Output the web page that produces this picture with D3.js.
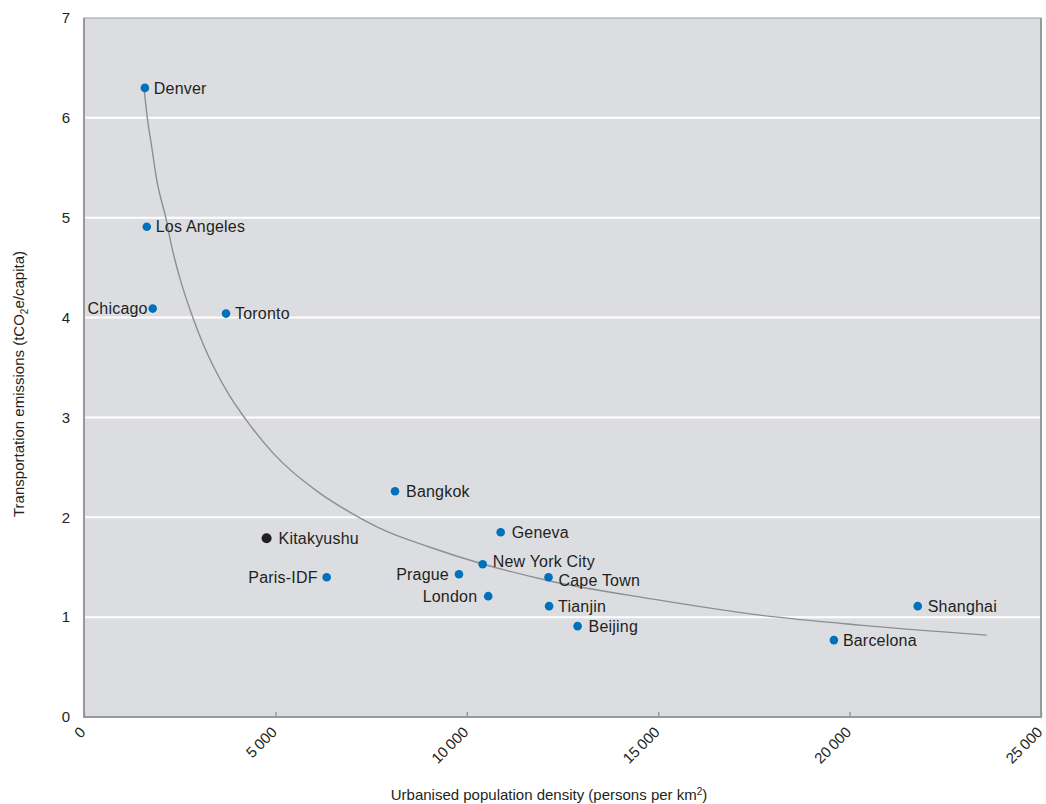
<!DOCTYPE html>
<html>
<head>
<meta charset="utf-8">
<script src="https://cdn.jsdelivr.net/npm/d3@7/dist/d3.min.js"></script>
<style>
  html, body { margin: 0; padding: 0; background: #ffffff; }
  svg { display: block; }
  text { font-family: "Liberation Sans", Arial, sans-serif; fill: #231f20; }
</style>
</head>
<body>
<svg id="chart" width="1046" height="804"></svg>
<script>
// Cities: urbanised population density vs. per-capita transport emissions
const cities   = ["Denver","Los Angeles","Chicago","Toronto","Bangkok","Kitakyushu","Paris-IDF","Geneva","New York City","Prague","London","Cape Town","Tianjin","Beijing","Barcelona","Shanghai"];
const density  = [1590, 1640, 1795, 3710, 8125, 4770, 6340, 10885, 10415, 9795, 10560, 12135, 12150, 12895, 19590, 21780];
const emission = [6.30, 4.91, 4.09, 4.04, 2.26, 1.79, 1.40, 1.85, 1.53, 1.43, 1.21, 1.40, 1.11, 0.91, 0.77, 1.11];
const highlighted = ["Kitakyushu"];

// Fitted trend curve (power law) sampled along its length
const trendX = [1567, 1654, 1769, 1899, 2142, 2291, 2508, 2814, 3117, 3422, 3814, 4206, 4945, 6165, 6862, 7733, 9039, 10345, 12087, 14872, 17659, 20271, 23580];
const trendY = [6.30, 6.00, 5.71, 5.38, 4.99, 4.71, 4.39, 4.03, 3.73, 3.48, 3.21, 2.99, 2.64, 2.24, 2.07, 1.89, 1.70, 1.54, 1.37, 1.18, 1.02, 0.92, 0.82];

const xTicks = [0, 5000, 10000, 15000, 20000, 25000];
const xTickLabels = ["0", "5\u2009000", "10\u2009000", "15\u2009000", "20\u2009000", "25\u2009000"];
const yTicks = [0, 1, 2, 3, 4, 5, 6, 7];

// label layout: horizontal offset from the dot (negative = text to the left) and vertical nudge, px
const labelDx = [9, 9, -5, 9, 11, 12, -9, 11, 10, -10, -11, 10, 9, 11, 9, 10];
const labelDy = [0, 0, 0, 0, 0, 0, 0, 0, -3, 0, 0, 3, 0, 0, 0, 0];

const svg = d3.select("#chart");
const plotLeft = 84, plotRight = 1041, plotTop = 18, plotBottom = 717;

const x = d3.scaleLinear().domain([0, 25000]).range([plotLeft, plotRight]);
const y = d3.scaleLinear().domain([0, 7]).range([plotBottom, plotTop]);

// plot background
svg.append("rect")
  .attr("x", plotLeft).attr("y", plotTop)
  .attr("width", plotRight - plotLeft).attr("height", plotBottom - plotTop)
  .attr("fill", "#dcdde0");

// horizontal gridlines
svg.append("g")
  .selectAll("line")
  .data(yTicks.filter(d => d > 0 && d < 7))
  .join("line")
  .attr("x1", plotLeft).attr("x2", plotRight)
  .attr("y1", d => y(d)).attr("y2", d => y(d))
  .attr("stroke", "#ffffff").attr("stroke-width", 2);

// frame
svg.append("rect")
  .attr("x", plotLeft).attr("y", plotTop)
  .attr("width", plotRight - plotLeft).attr("height", plotBottom - plotTop)
  .attr("fill", "none").attr("stroke", "#a0a1a4").attr("stroke-width", 1);
svg.append("path")
  .attr("d", `M${plotLeft},${plotTop}V${plotBottom}H${plotRight}V${plotTop}`)
  .attr("fill", "none").attr("stroke", "#98999c").attr("stroke-width", 2);

// x axis ticks (inward) and rotated labels
const xAxis = d3.axisBottom(x)
  .tickValues(xTicks)
  .tickSizeInner(-5).tickSizeOuter(0)
  .tickFormat((d, i) => xTickLabels[i]);
const gx = svg.append("g").attr("transform", `translate(0,${plotBottom})`).call(xAxis);
gx.select(".domain").remove();
gx.selectAll(".tick line").attr("stroke", "#98999c").attr("stroke-width", 1.5);
gx.selectAll(".tick text")
  .attr("font-size", 15)
  .attr("fill", "#231f20")
  .attr("text-anchor", "end")
  .attr("dy", null).attr("y", 0)
  .attr("transform", "translate(2,16) rotate(-45)");

// y axis labels
const yAxis = d3.axisLeft(y).tickValues(yTicks).tickSize(0).tickPadding(14).tickFormat(d3.format("d"));
const gy = svg.append("g").attr("transform", `translate(${plotLeft},0)`).call(yAxis);
gy.select(".domain").remove();
gy.selectAll(".tick text").attr("font-size", 15).attr("fill", "#231f20");

// trend curve
const line = d3.line()
  .x((d, i) => x(trendX[i]))
  .y((d, i) => y(trendY[i]))
  .curve(d3.curveMonotoneX);
svg.append("path")
  .attr("d", line(trendX))
  .attr("fill", "none")
  .attr("stroke", "#8d8e91")
  .attr("stroke-width", 1.4);

// points
const pts = cities.map((c, i) => ({ name: c, dx: density[i], ey: emission[i], ox: labelDx[i], oy: labelDy[i] }));
svg.append("g")
  .selectAll("circle")
  .data(pts)
  .join("circle")
  .attr("cx", d => x(d.dx))
  .attr("cy", d => y(d.ey))
  .attr("r", d => highlighted.includes(d.name) ? 5 : 4.3)
  .attr("fill", d => highlighted.includes(d.name) ? "#231f20" : "#0072bc");

// city labels
svg.append("g")
  .selectAll("text")
  .data(pts)
  .join("text")
  .attr("x", d => x(d.dx) + d.ox)
  .attr("y", d => y(d.ey) + d.oy)
  .attr("dy", "0.35em")
  .attr("text-anchor", d => d.ox >= 0 ? "start" : "end")
  .attr("font-size", 16)
  .attr("letter-spacing", "0.2px")
  .text(d => d.name);

// axis titles
const yTitle = svg.append("text")
  .attr("transform", "translate(24,384) rotate(-90)")
  .attr("text-anchor", "middle")
  .attr("font-size", 15);
yTitle.append("tspan").text("Transportation emissions (tCO");
yTitle.append("tspan").attr("font-size", 10).attr("dy", 4).text("2");
yTitle.append("tspan").attr("dy", -4).text("e/capita)");

const xTitle = svg.append("text")
  .attr("x", 549).attr("y", 800)
  .attr("text-anchor", "middle")
  .attr("font-size", 15);
xTitle.append("tspan").text("Urbanised population density (persons per km");
xTitle.append("tspan").attr("font-size", 10).attr("dy", -5).text("2");
xTitle.append("tspan").attr("dy", 5).text(")");
</script>
</body>
</html>
